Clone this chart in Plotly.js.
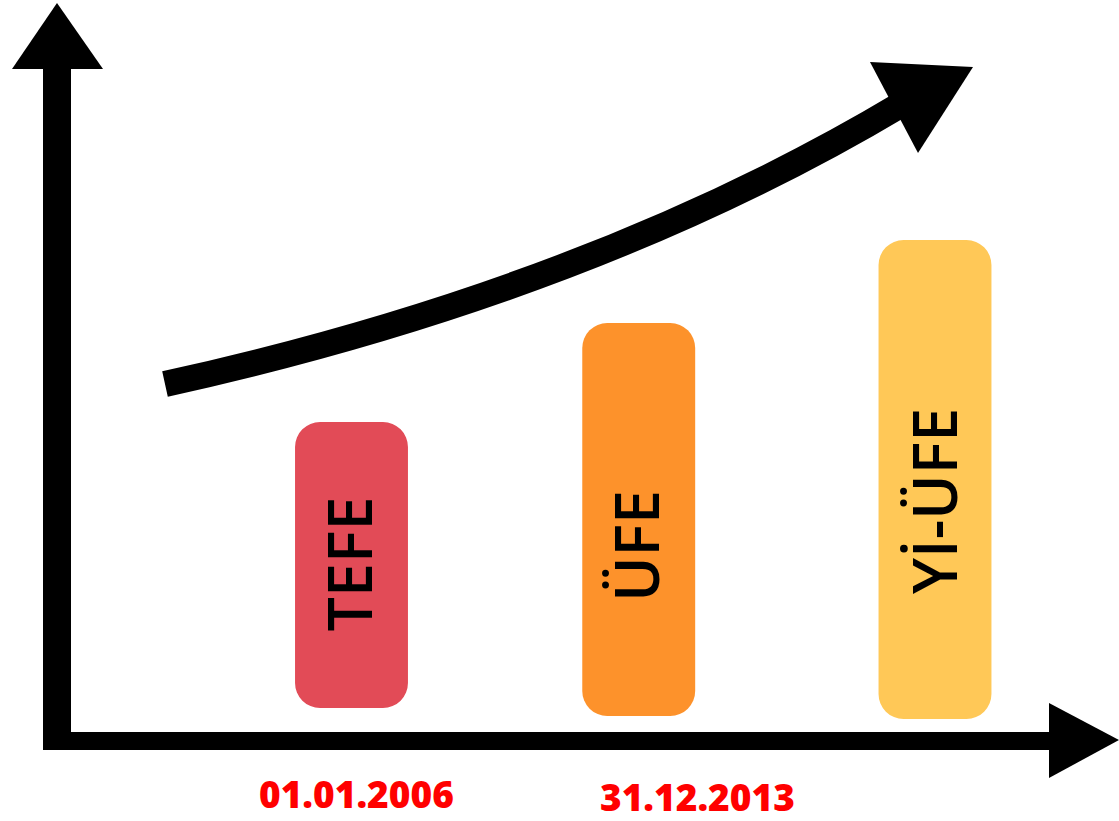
<!DOCTYPE html>
<html>
<head>
<meta charset="utf-8">
<script src="https://cdn.plot.ly/plotly-3.0.1.min.js"></script>
<style>
  html, body { margin: 0; padding: 0; background: #ffffff; }
  #chart { width: 1119px; height: 821px; }
</style>
</head>
<body>
<div id="chart"></div>
<script>
// ---- data ----
const categories = ['TEFE', 'ÜFE', 'Yİ-ÜFE'];
const barBottom = [113, 105, 102];
const barTop = [399, 498, 581];
const dateLabels = ['01.01.2006', '31.12.2013'];

// ---- styles ----
const barColors = ['#E24B57', '#FD922B', '#FFC857'];
const W = 1119, H = 821;
const px = x => x / W;
const py = y => 1 - y / H;
const barW = 0.387;

const bars = {
  type: 'bar',
  x: categories,
  base: barBottom,
  y: barTop.map((t, i) => t - barBottom[i]),
  width: barW,
  offset: [-barW / 2, -barW / 2 - 0.0155, -barW / 2],
  marker: { color: barColors, cornerradius: 25, line: { width: 0 } },
  hoverinfo: 'skip',
  showlegend: false
};

function poly(pts) {
  return 'M' + pts.map(p => px(p[0]) + ',' + py(p[1])).join(' L') + ' Z';
}

const shapes = [
  // vertical axis
  { type: 'rect', xref: 'paper', yref: 'paper', x0: px(43), x1: px(71), y0: py(750), y1: py(68),
    fillcolor: '#000', line: { width: 0 }, layer: 'above' },
  { type: 'path', xref: 'paper', yref: 'paper', path: poly([[12, 69], [103, 69], [57, 3]]),
    fillcolor: '#000', line: { width: 0 }, layer: 'above' },
  // horizontal axis
  { type: 'rect', xref: 'paper', yref: 'paper', x0: px(43), x1: px(1050), y0: py(750), y1: py(732),
    fillcolor: '#000', line: { width: 0 }, layer: 'above' },
  { type: 'path', xref: 'paper', yref: 'paper', path: poly([[1049, 703], [1049, 778], [1119, 740]]),
    fillcolor: '#000', line: { width: 0 }, layer: 'above' },
  // trend curve
  { type: 'path', xref: 'paper', yref: 'paper',
    path: 'M' + px(165) + ',' + py(384) + ' Q' + px(591) + ',' + py(290) + ' ' + px(902) + ',' + py(104),
    line: { color: '#000', width: 26 }, fillcolor: 'rgba(0,0,0,0)', layer: 'above' },
  { type: 'path', xref: 'paper', yref: 'paper', path: poly([[870, 62], [973, 67], [918, 153]]),
    fillcolor: '#000', line: { width: 0 }, layer: 'above' }
];

const labelFont = { family: 'Open Sans', size: 61, color: '#000000', weight: 600 };
const labelY = [257, 275, 320];
const labelShift = [-4, -4, -2];
const annotations = categories.map((c, i) => ({
  x: c, y: labelY[i], xref: 'x', yref: 'y', text: c, showarrow: false,
  textangle: -90, font: labelFont, xanchor: 'center', yanchor: 'middle',
  xshift: labelShift[i] + (i === 1 ? -4.5 : 0)
}));
const datePos = [[356, 793], [697.5, 796]];
dateLabels.forEach((d, i) => {
  annotations.push({
    x: px(datePos[i][0]), y: py(datePos[i][1]), xref: 'paper', yref: 'paper',
    text: d, showarrow: false, xanchor: 'center', yanchor: 'middle',
    font: { family: 'Open Sans', size: 37, color: '#FF0000', weight: 800 }
  });
});

const layout = {
  width: W, height: H, autosize: false,
  margin: { l: 0, r: 0, t: 0, b: 0, pad: 0 },
  paper_bgcolor: '#ffffff', plot_bgcolor: '#ffffff',
  barmode: 'overlay',
  xaxis: { type: 'category', range: [-1.2048, 2.6307], visible: false, fixedrange: true },
  yaxis: { range: [0, H], visible: false, fixedrange: true },
  shapes: shapes,
  annotations: annotations,
  hovermode: false,
  showlegend: false
};

Plotly.newPlot('chart', [bars], layout, { staticPlot: true, displayModeBar: false });
</script>
</body>
</html>
